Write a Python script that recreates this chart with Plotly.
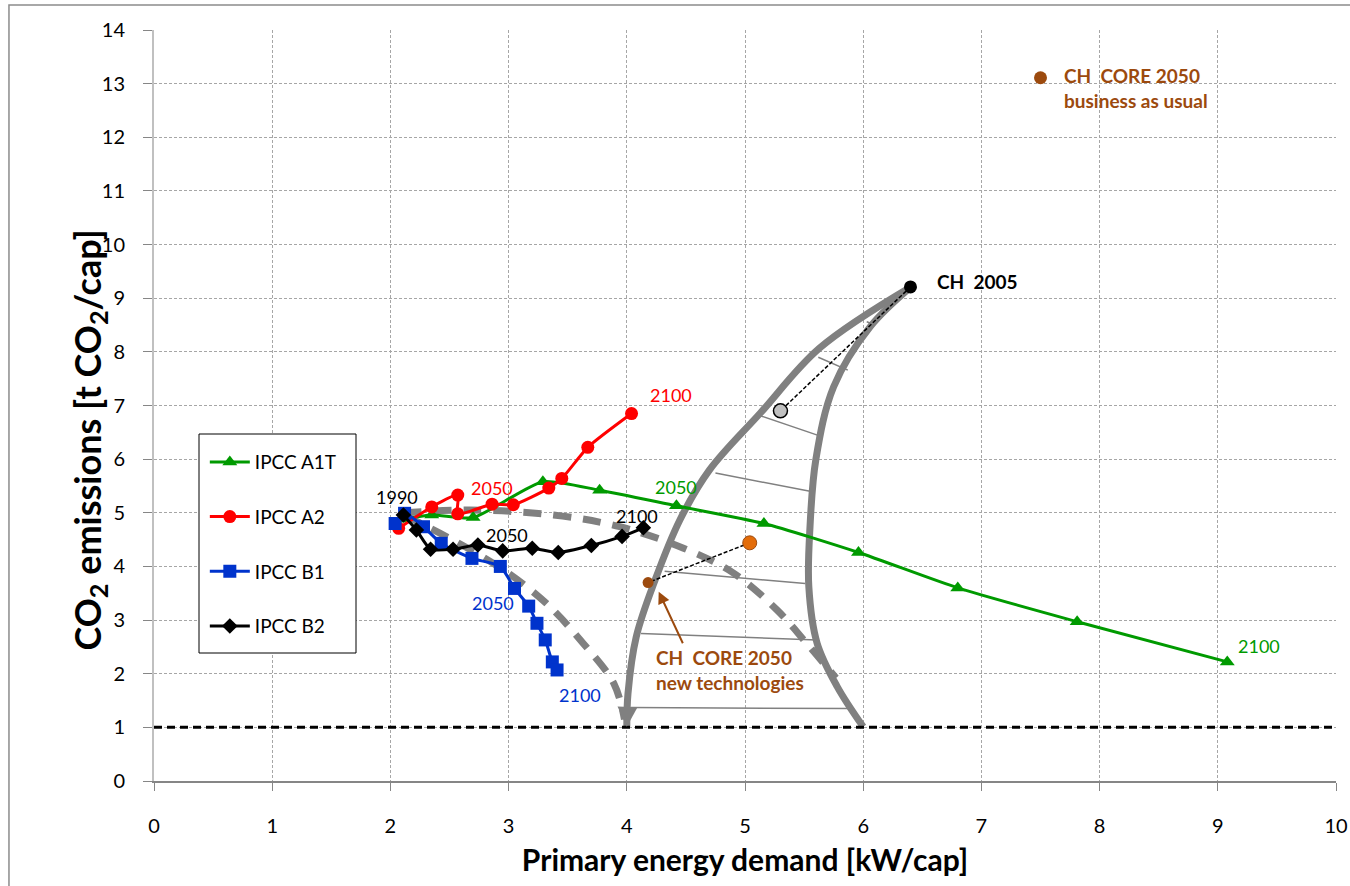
import plotly.graph_objects as go

# ---------------- data ----------------
a1t_x = [2.10, 2.35, 2.70, 3.29, 3.77, 4.42, 5.16, 5.96, 6.80, 7.81, 9.08]
a1t_y = [4.88, 4.96, 4.91, 5.58, 5.42, 5.13, 4.80, 4.26, 3.60, 2.97, 2.22]

a2_x = [2.07, 2.35, 2.57, 2.57, 2.86, 3.04, 3.34, 3.45, 3.67, 4.04]
a2_y = [4.71, 5.11, 5.33, 4.98, 5.16, 5.15, 5.46, 5.64, 6.22, 6.85]

b1_x = [2.04, 2.12, 2.28, 2.43, 2.69, 2.93, 3.05, 3.17, 3.24, 3.31, 3.37, 3.41]
b1_y = [4.80, 4.99, 4.74, 4.43, 4.15, 4.00, 3.59, 3.26, 2.94, 2.63, 2.22, 2.07]

b2_x = [2.11, 2.22, 2.34, 2.53, 2.74, 2.95, 3.20, 3.42, 3.70, 3.96, 4.14]
b2_y = [4.96, 4.68, 4.32, 4.32, 4.40, 4.29, 4.34, 4.26, 4.39, 4.56, 4.72]

# gray "horn" envelope (left and right boundaries)
horn_left_x = [6.41, 5.63, 5.13, 4.70, 4.45, 4.24, 4.08, 4.01, 4.00]
horn_left_y = [9.22, 8.07, 6.86, 5.80, 4.87, 3.75, 2.69, 1.63, 1.01]
horn_right_x = [6.41, 6.06, 5.75, 5.60, 5.55, 5.54, 5.61, 5.78, 6.00]
horn_right_y = [9.22, 8.47, 7.35, 6.00, 4.74, 3.62, 2.57, 1.76, 1.01]

# rungs across the horn: (x0, y0, x1, y1)
rungs = [
    (6.03, 8.56, 6.10, 8.50),
    (5.62, 7.90, 5.87, 7.66),
    (5.13, 6.81, 5.65, 6.42),
    (4.75, 5.74, 5.55, 5.40),
    (4.32, 3.91, 5.51, 3.68),
    (4.12, 2.75, 5.61, 2.63),
    (4.03, 1.37, 5.89, 1.35),
]

# dashed gray trends
dash1_x = [2.11, 2.67, 3.38, 3.94, 4.48, 4.90, 5.27, 5.52, 5.77]
dash1_y = [5.00, 5.05, 4.96, 4.74, 4.34, 3.88, 3.19, 2.57, 1.92]
dash2_x = [2.12, 2.53, 2.96, 3.32, 3.63, 3.89, 3.98]
dash2_y = [4.95, 4.49, 3.93, 3.31, 2.57, 1.82, 1.15]

ch2005 = (6.40, 9.21)
gray_pt = (5.30, 6.90)
orange_pt = (5.04, 4.44)
brown_pt = (4.18, 3.70)
bau_pt = (7.50, 13.11)

x_ticks = list(range(0, 11))
y_ticks = list(range(0, 15))

GREEN = "#009A00"
RED = "#FF0000"
BLUE = "#0033CC"
BLACK = "#000000"
GRAY = "#808080"
BROWN = "#9C4A0E"
ORANGE = "#E36C09"
FONT = "Lato"

fig = go.Figure()

# horn
for xs, ys in [(horn_left_x, horn_left_y), (horn_right_x, horn_right_y)]:
    fig.add_trace(go.Scatter(x=xs, y=ys, mode="lines", line=dict(color=GRAY, width=7, shape="spline"),
                             showlegend=False, hoverinfo="skip"))
for (x0, y0, x1, y1) in rungs:
    fig.add_trace(go.Scatter(x=[x0, x1], y=[y0, y1], mode="lines", line=dict(color=GRAY, width=1.5),
                             showlegend=False, hoverinfo="skip"))
for xs, ys in [(dash1_x, dash1_y), (dash2_x, dash2_y)]:
    fig.add_trace(go.Scatter(x=xs, y=ys, mode="lines",
                             line=dict(color=GRAY, width=7, shape="spline", dash="18px,12px"),
                             showlegend=False, hoverinfo="skip"))

# y = 1 line
fig.add_trace(go.Scatter(x=[0, 10], y=[1, 1], mode="lines", line=dict(color=BLACK, width=3, dash="8px,5px"),
                         showlegend=False, hoverinfo="skip"))

# thin dashed connectors
fig.add_trace(go.Scatter(x=[ch2005[0], gray_pt[0]], y=[ch2005[1], gray_pt[1]], mode="lines",
                         line=dict(color=BLACK, width=1.5, dash="4px,2px"), showlegend=False, hoverinfo="skip"))
fig.add_trace(go.Scatter(x=[orange_pt[0], brown_pt[0]], y=[orange_pt[1], brown_pt[1]], mode="lines",
                         line=dict(color=BLACK, width=1.5, dash="4px,2px"), showlegend=False, hoverinfo="skip"))

# series
series = [
    ("IPCC A1T", a1t_x, a1t_y, GREEN, "triangle-up", 13),
    ("IPCC A2", a2_x, a2_y, RED, "circle", 13),
    ("IPCC B1", b1_x, b1_y, BLUE, "square", 13),
    ("IPCC B2", b2_x, b2_y, BLACK, "diamond", 12),
]
for name, xs, ys, col, sym, sz in series:
    fig.add_trace(go.Scatter(x=xs, y=ys, mode="lines+markers", name=name, legendgroup=name,
                             line=dict(color=col, width=3, shape="spline", smoothing=0.6),
                             marker=dict(symbol=sym, size=sz, color=col)))

# points
fig.add_trace(go.Scatter(x=[gray_pt[0]], y=[gray_pt[1]], mode="markers", showlegend=False,
                         marker=dict(size=14, color="#C0C0C0", line=dict(color=BLACK, width=1.5))))
fig.add_trace(go.Scatter(x=[orange_pt[0]], y=[orange_pt[1]], mode="markers", showlegend=False,
                         marker=dict(size=14, color=ORANGE, line=dict(color=BROWN, width=1))))
fig.add_trace(go.Scatter(x=[brown_pt[0]], y=[brown_pt[1]], mode="markers", showlegend=False,
                         marker=dict(size=11, color=BROWN)))
fig.add_trace(go.Scatter(x=[bau_pt[0]], y=[bau_pt[1]], mode="markers", showlegend=False,
                         marker=dict(size=13, color=BROWN)))
fig.add_trace(go.Scatter(x=[ch2005[0]], y=[ch2005[1]], mode="markers", showlegend=False,
                         marker=dict(size=13, color=BLACK)))

# year labels
labels = [
    ("1990", 2.06, 5.29, BLACK),
    ("2050", 2.86, 5.46, RED),
    ("2100", 4.37, 7.20, RED),
    ("2050", 4.42, 5.48, GREEN),
    ("2050", 2.99, 4.59, BLACK),
    ("2100", 4.09, 4.94, BLACK),
    ("2050", 2.87, 3.32, BLUE),
    ("2100", 3.60, 1.60, BLUE),
    ("2100", 9.35, 2.52, GREEN),
]
for txt, x, y, col in labels:
    fig.add_annotation(x=x, y=y, text=txt, showarrow=False, font=dict(family=FONT, size=18, color=col))

fig.add_annotation(x=6.61, y=9.32, text="<b>CH  2005</b>", showarrow=False, xanchor="left",
                   font=dict(family=FONT, size=19, color=BLACK))
fig.add_annotation(x=7.68, y=12.91, text="<b>CH  CORE 2050<br>business as usual</b>", showarrow=False,
                   xanchor="left", align="left", font=dict(family=FONT, size=19, color=BROWN))
fig.add_annotation(x=4.23, y=2.07, text="<b>CH  CORE 2050<br>new technologies</b>", showarrow=False,
                   xanchor="left", align="left", font=dict(family=FONT, size=19, color=BROWN))
fig.add_annotation(x=4.27, y=3.53, ax=4.48, ay=2.54, axref="x", ayref="y", xref="x", yref="y",
                   text="", showarrow=True, arrowhead=2, arrowsize=1.2, arrowwidth=2, arrowcolor=BROWN)
# pointed end of the left horn boundary
fig.add_annotation(x=horn_left_x[-1], y=horn_left_y[-1], ax=horn_left_x[-2], ay=horn_left_y[-2],
                   axref="x", ayref="y", text="", showarrow=True, arrowhead=2, arrowsize=0.8,
                   arrowwidth=5, arrowcolor=GRAY)

# y-axis title (placed like the original, slightly below the axis centre)
fig.add_annotation(xref="paper", yref="paper", x=(62 - 154) / 1182, y=(781 - 440) / 751,
                   text="<b>CO<sub>2</sub> emissions [t CO<sub>2</sub>/cap]</b>", textangle=-90,
                   showarrow=False, font=dict(family=FONT, size=36, color=BLACK))

# outer frame (left/top edges visible)
fig.add_shape(type="rect", xref="paper", yref="paper", x0=-0.1227, x1=1.03, y0=-0.16, y1=1.0333,
              line=dict(color="#8C8C8C", width=1.5))
# legend box
fig.add_shape(type="rect", xref="paper", yref="paper", layer="above",
              x0=(199 - 154) / 1182, x1=(356 - 154) / 1182, y0=(781 - 653) / 751, y1=(781 - 434) / 751,
              line=dict(color=BLACK, width=1), fillcolor="white")

fig.update_layout(
    width=1350, height=886,
    paper_bgcolor="white", plot_bgcolor="white",
    margin=dict(l=154, r=14, t=30, b=105, autoexpand=False),
    font=dict(family=FONT, size=17, color=BLACK),
    legend=dict(x=0.043, y=0.450, xanchor="left", yanchor="top", borderwidth=0,
                bgcolor="rgba(0,0,0,0)", font=dict(family=FONT, size=19), tracegroupgap=27,
                traceorder="grouped", itemwidth=40),
    xaxis=dict(range=[0, 10], tickvals=x_ticks, showgrid=True, gridcolor="#A6A6A6", griddash="3px,2px",
               showline=True, linecolor="#868686", linewidth=1.5, ticks="outside", ticklen=8, tickcolor="#868686",
               zeroline=False, tickfont=dict(size=20), ticklabelstandoff=18, automargin=False,
               title=dict(text="<b>Primary energy demand [kW/cap]</b>", font=dict(size=30), standoff=14)),
    yaxis=dict(range=[0, 14], tickvals=y_ticks, showgrid=True, gridcolor="#A6A6A6", griddash="3px,2px",
               showline=True, linecolor="#C0C0C0", linewidth=2, ticks="outside", ticklen=9, tickcolor="#868686",
               zeroline=False, tickfont=dict(size=20), ticklabelstandoff=14, automargin=False),
)

# remove the default 8px page margin so the 1350x886 figure fills the window exactly
fig.write_html("out.html", config={"displayModeBar": False},
               post_script="document.body.style.margin='0';document.body.style.overflow='hidden';")
